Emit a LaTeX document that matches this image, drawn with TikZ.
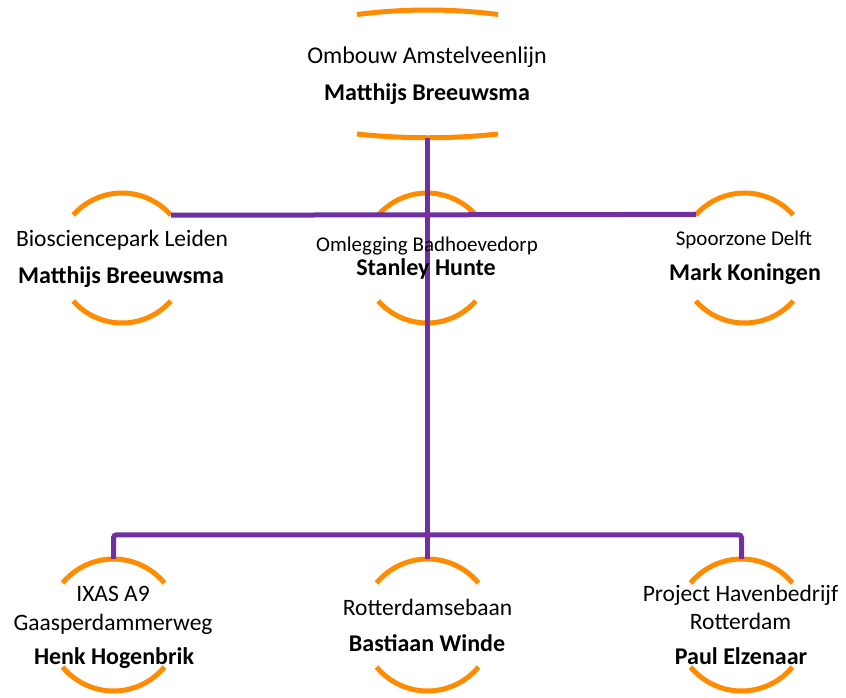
\documentclass[tikz,border=0pt]{standalone}
\usepackage{fontspec}
\setmainfont{Carlito}
\definecolor{orgorange}{RGB}{255,140,0}
\definecolor{orgpurple}{RGB}{112,48,160}
\newcommand\orgarcs[3]{%
  \draw[orarc] ([shift={(-90+#3:#2)}]#1) arc[start angle=-90+#3, end angle=-90-#3, radius=#2];
  \draw[orarc] ([shift={(90-#3:#2)}]#1) arc[start angle=90-#3, end angle=90+#3, radius=#2];
}
\begin{document}
\begin{tikzpicture}[x=1pt,y=-1pt,
  orarc/.style={draw=orgorange,line width=5pt},
  pline/.style={draw=orgpurple,line width=5pt},
  ring/.style={circle,inner sep=0pt,minimum size=#1},
  reg/.style={anchor=base,inner sep=0pt,font=\fontsize{23.5}{28}\selectfont},
  regt/.style={anchor=base,inner sep=0pt,font=\fontsize{24}{28}\selectfont},
  regs/.style={anchor=base,inner sep=0pt,font=\fontsize{21}{25}\selectfont},
  bld/.style={anchor=base,inner sep=0pt,font=\fontsize{24}{28}\selectfont\bfseries}]
\useasboundingbox (0,0) rectangle (846,697);
% rings (invisible nodes carrying the geometry)
\node[ring=130pt] (ml) at (122,258) {};
\node[ring=130pt] (mm) at (427,258) {};
\node[ring=130pt] (mr) at (744.5,258) {};
\node[ring=132pt] (bl) at (113.5,625) {};
\node[ring=132pt] (bm) at (427.5,625) {};
\node[ring=132pt] (br) at (741.5,625) {};
\coordinate (topb) at (427.5,137.5);
% orange arcs
\draw[orarc] (357,14.5) .. controls (404,8.5) and (451,8.5) .. (498,14.5);
\draw[orarc] (357,134) .. controls (404,139) and (451,139) .. (498,134);
\orgarcs{ml}{65}{48.6}
\orgarcs{mm}{65}{48.6}
\orgarcs{mr}{65}{48.6}
\orgarcs{bl}{66}{50.5}
\orgarcs{bm}{66}{50.5}
\orgarcs{br}{66}{50.5}
% connectors
\draw[pline] (topb) -- (bm.north);
\draw[pline] (ml.41.4) -- (mr.138.6);
\draw[pline,rounded corners=3pt] (bl.north) -- ++(0,-24) -| (br.north);
% texts
\node[regt] (t1) at (427,63.3) {Ombouw Amstelveenlijn};
\node[bld] (t2) at (427,100) {Matthijs Breeuwsma};
\node[reg] (l1) at (122,246.7) {Biosciencepark Leiden};
\node[bld] (l2) at (121,283) {Matthijs Breeuwsma};
\node[regs] (m1) at (427,251) {Omlegging Badhoevedorp};
\node[bld] (m2) at (426,275.7) {Stanley Hunte};
\node[regs] (r1) at (744,245.7) {Spoorzone Delft};
\node[bld] (r2) at (745,280) {Mark Koningen};
\node[reg] (bl1) at (113,601.7) {IXAS A9};
\node[reg] (bl2) at (113,630) {Gaasperdammerweg};
\node[bld] (bl3) at (114,664) {Henk Hogenbrik};
\node[reg] (bm1) at (427.5,615) {Rotterdamsebaan};
\node[bld] (bm2) at (427,651.7) {Bastiaan Winde};
\node[reg] (br1) at (740.5,601.7) {Project Havenbedrijf};
\node[reg] (br2) at (740.5,629) {Rotterdam};
\node[bld] (br3) at (741,664) {Paul Elzenaar};
\end{tikzpicture}
\end{document}
